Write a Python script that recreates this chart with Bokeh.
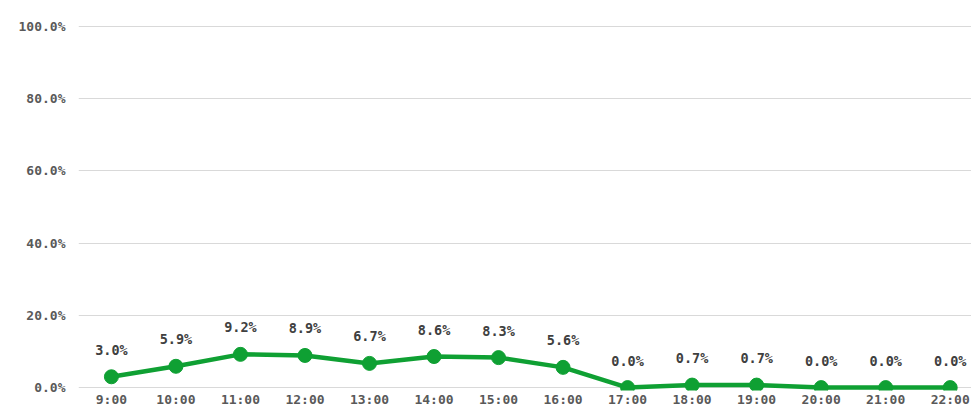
from bokeh.plotting import figure
from bokeh.models import ColumnDataSource, Range1d, FixedTicker
from bokeh.core.properties import value
from bokeh.embed import file_html
from bokeh.resources import INLINE

hours = ["9:00", "10:00", "11:00", "12:00", "13:00", "14:00", "15:00",
         "16:00", "17:00", "18:00", "19:00", "20:00", "21:00", "22:00"]
shares = [3.0, 5.9, 9.2, 8.9, 6.7, 8.6, 8.3, 5.6, 0.0, 0.7, 0.7, 0.0, 0.0, 0.0]
y_ticks = [0, 20, 40, 60, 80, 100]

xs = list(range(len(hours)))
src = ColumnDataSource(dict(
    x=xs, y=shares, label=[f"{v:.1f}%" for v in shares]))

FONT = "DejaVu Sans Mono"
GREEN = "#0FA033"

p = figure(width=971, height=409, output_backend="svg", toolbar_location=None,
           x_range=Range1d(-0.51, 13.33), y_range=Range1d(-0.8, 103.8),
           min_border_left=78, min_border_right=0, min_border_top=12,
           min_border_bottom=0)
p.outline_line_color = None
p.background_fill_color = "white"
p.border_fill_color = "white"

p.line("x", "y", source=src, line_color=GREEN, line_width=4.5)
p.scatter("x", "y", source=src, size=14, fill_color=GREEN, line_color=GREEN)
p.text("x", "y", text="label", source=src, y_offset=-27,
       text_align="center", text_baseline="middle",
       text_font=value(FONT), text_font_size="13.5px", text_font_style="bold",
       text_color="#404040")

p.xaxis.ticker = FixedTicker(ticks=xs)
p.xaxis.major_label_overrides = {i: h for i, h in enumerate(hours)}
p.yaxis.ticker = FixedTicker(ticks=y_ticks)
p.yaxis.major_label_overrides = {t: f"{t:.1f}%" for t in y_ticks}

for ax in (p.xaxis, p.yaxis):
    ax.axis_line_color = None
    ax.major_tick_line_color = None
    ax.minor_tick_line_color = None
    ax.major_tick_out = 0
    ax.major_tick_in = 0
    ax.minor_tick_out = 0
    ax.minor_tick_in = 0
    ax.major_label_text_font = FONT
    ax.major_label_text_font_size = "13px"
    ax.major_label_text_font_style = "bold"
    ax.major_label_text_color = "#595959"
p.xaxis.major_label_standoff = 1
p.yaxis.major_label_standoff = 13

p.xgrid.grid_line_color = None
p.ygrid.grid_line_color = "#D9D9D9"
p.ygrid.grid_line_width = 1

open("out.html", "w").write(file_html(p, INLINE))
